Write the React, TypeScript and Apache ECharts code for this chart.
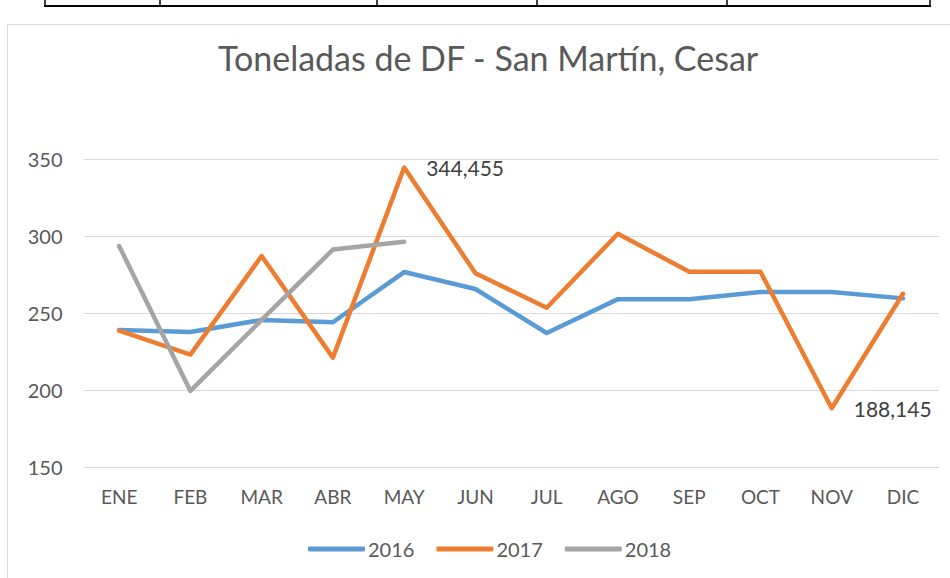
import React, { useEffect, useRef } from "react";
import * as echarts from "echarts";

const months = ["ENE", "FEB", "MAR", "ABR", "MAY", "JUN", "JUL", "AGO", "SEP", "OCT", "NOV", "DIC"];
const y2016 = [239, 237.7, 245.5, 244, 276.6, 265.6, 237, 259, 259, 263.7, 263.7, 259.5];
const y2017 = [238.5, 223, 287, 221, 344.455, 275.8, 253.4, 301.5, 276.8, 276.8, 188.145, 262.5];
const y2018 = [293.5, 199.4, 245.5, 291.2, 296.3];
const labelled2017 = [4, 10];
const yTicks = { min: 150, max: 350, interval: 50 };

const FONT = "Lato, 'Open Sans', sans-serif";
const TXT = "#595959";

export default function App() {
  const ref = useRef<HTMLDivElement>(null);
  useEffect(() => {
    if (!ref.current) return;
    const chart = echarts.init(ref.current, null, { renderer: "svg" });
    const fmt = (v: number) => String(v).replace(".", ",");
    const mk = (name: string, data: number[], color: string, labels: number[] = []) => ({
      name,
      type: "line",
      data: data.map((v, i) =>
        labels.includes(i)
          ? {
              value: v,
              label: {
                show: true,
                position: "right",
                distance: 22,
                formatter: () => fmt(v),
                fontFamily: FONT,
                fontSize: 21,
                color: "#404040",
              },
            }
          : v
      ),
      showSymbol: true,
      showAllSymbol: true,
      symbol: "circle",
      symbolSize: 0,
      lineStyle: { color, width: 4.5, cap: "round", join: "round" },
      itemStyle: { color },
      z: name === "2018" ? 3 : name === "2017" ? 2 : 1,
    });
    chart.setOption({
      animation: false,
      backgroundColor: "#ffffff",
      textStyle: { fontFamily: FONT },
      title: {
        text: "Toneladas de DF - San Martín, Cesar",
        left: 213,
        top: 35,
        textStyle: { fontFamily: FONT, fontSize: 34, fontWeight: "normal", color: TXT },
      },
      grid: { left: 83.5, right: 11.4, top: 159, bottom: 111 },
      xAxis: {
        type: "category",
        data: months,
        boundaryGap: true,
        axisLine: { lineStyle: { color: "#d9d9d9", width: 1 } },
        axisTick: { show: false },
        axisLabel: { color: TXT, fontSize: 19, fontFamily: FONT, margin: 20 },
      },
      yAxis: {
        type: "value",
        min: yTicks.min,
        max: yTicks.max,
        interval: yTicks.interval,
        axisLine: { show: false },
        axisTick: { show: false },
        splitLine: { lineStyle: { color: "#d9d9d9", width: 1 } },
        axisLabel: { color: TXT, fontSize: 20, fontFamily: FONT, margin: 21 },
      },
      legend: {
        bottom: 14,
        left: 303,
        icon: "roundRect",
        itemWidth: 57,
        itemHeight: 5,
        itemGap: 22,
        textStyle: { color: TXT, fontSize: 20, fontFamily: FONT, padding: [0, 0, 0, -2] },
        data: ["2016", "2017", "2018"],
      },
      series: [
        mk("2016", y2016, "#5B9BD5"),
        mk("2017", y2017, "#ED7D31", labelled2017),
        mk("2018", y2018, "#A5A5A5"),
      ],
      graphic: [
        {
          type: "rect",
          silent: true,
          shape: { x: 7.5, y: 24.5, width: 960, height: 600 },
          style: { fill: "none", stroke: "#d9d9d9", lineWidth: 1 },
          z: -10,
        },
        {
          type: "line",
          shape: { x1: 44, y1: 6, x2: 931, y2: 6 },
          style: { stroke: "#000", lineWidth: 2 },
        },
        ...[45, 160, 377, 537, 727, 930].map((x) => ({
          type: "line",
          shape: { x1: x, y1: 0, x2: x, y2: 6 },
          style: { stroke: "#000", lineWidth: 1.5 },
        })),
      ],
    });
    return () => chart.dispose();
  }, []);
  return (
    <div style={{ position: "fixed", left: 0, top: 0, width: 950, height: 578, background: "#fff" }}>
      <div ref={ref} style={{ width: 950, height: 578 }} />
    </div>
  );
}
